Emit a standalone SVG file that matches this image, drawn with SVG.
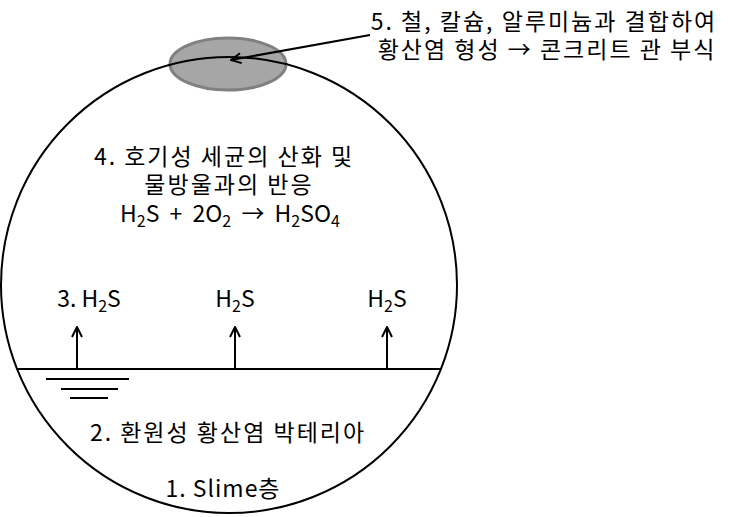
<svg xmlns="http://www.w3.org/2000/svg" width="742" height="517" viewBox="0 0 742 517">
<style>
text{font-family:"Noto Sans CJK KR","Noto Sans",sans-serif;font-size:23px;fill:#000}
.k{letter-spacing:2px}
.c{text-anchor:middle}
.ln{stroke:#000;stroke-width:2;fill:none}
.s{font-size:16px}
</style>
<defs>
<marker id="ah" viewBox="0 0 12 12" refX="11" refY="6" markerWidth="12" markerHeight="12" markerUnits="userSpaceOnUse" orient="auto">
<path d="M1,1 L11,6 L1,11" fill="none" stroke="#000" stroke-width="2"/>
</marker>
</defs>
<rect width="742" height="517" fill="#fff"/>
<g id="pipe">
<ellipse cx="228" cy="64" rx="58" ry="26" fill="#a6a6a6" stroke="#808080" stroke-width="3"/>
<circle cx="229" cy="285" r="228" class="ln" stroke-width="3"/>
</g>
<g id="water">
<line x1="17" y1="369" x2="441" y2="369" class="ln"/>
<line x1="46" y1="379" x2="129" y2="379" class="ln"/>
<line x1="61" y1="389" x2="118" y2="389" class="ln"/>
<line x1="70" y1="398" x2="108" y2="398" class="ln"/>
</g>
<g id="connectors">
<line x1="77" y1="369" x2="77" y2="327" class="ln" marker-end="url(#ah)"/>
<line x1="235" y1="369" x2="235" y2="327" class="ln" marker-end="url(#ah)"/>
<line x1="387" y1="369" x2="387" y2="327" class="ln" marker-end="url(#ah)"/>
<line x1="370" y1="35" x2="231" y2="60" class="ln" marker-end="url(#ah)"/>
</g>
<g id="label5">
<text class="c k"><tspan x="544" y="30">5. 철, 칼슘, 알루미늄과 결합하여</tspan><tspan x="547" y="58">황산염 형성 → 콘크리트 관 부식</tspan></text>
</g>
<g id="label4">
<text class="c"><tspan class="k" x="224" y="165">4. 호기성 세균의 산화 및</tspan><tspan class="k" x="229" y="193">물방울과의 반응</tspan><tspan x="230" y="222" word-spacing="5">H</tspan><tspan class="s" dy="5">2</tspan><tspan dy="-5" word-spacing="5">S + 2O</tspan><tspan class="s" dy="5">2</tspan><tspan dy="-5" word-spacing="5"> → H</tspan><tspan class="s" dy="5">2</tspan><tspan dy="-5">SO</tspan><tspan class="s" dy="5">4</tspan></text>
</g>
<g id="label3">
<text x="89" y="307" class="c">3. H<tspan class="s" dy="5">2</tspan><tspan dy="-5">S</tspan></text>
<text x="235" y="307" class="c">H<tspan class="s" dy="5">2</tspan><tspan dy="-5">S</tspan></text>
<text x="387" y="307" class="c">H<tspan class="s" dy="5">2</tspan><tspan dy="-5">S</tspan></text>
</g>
<g id="label2"><text x="228" y="441" class="c k">2. 환원성 황산염 박테리아</text></g>
<g id="label1"><text x="223" y="497" class="c" letter-spacing="1">1. Slime층</text></g>
</svg>
